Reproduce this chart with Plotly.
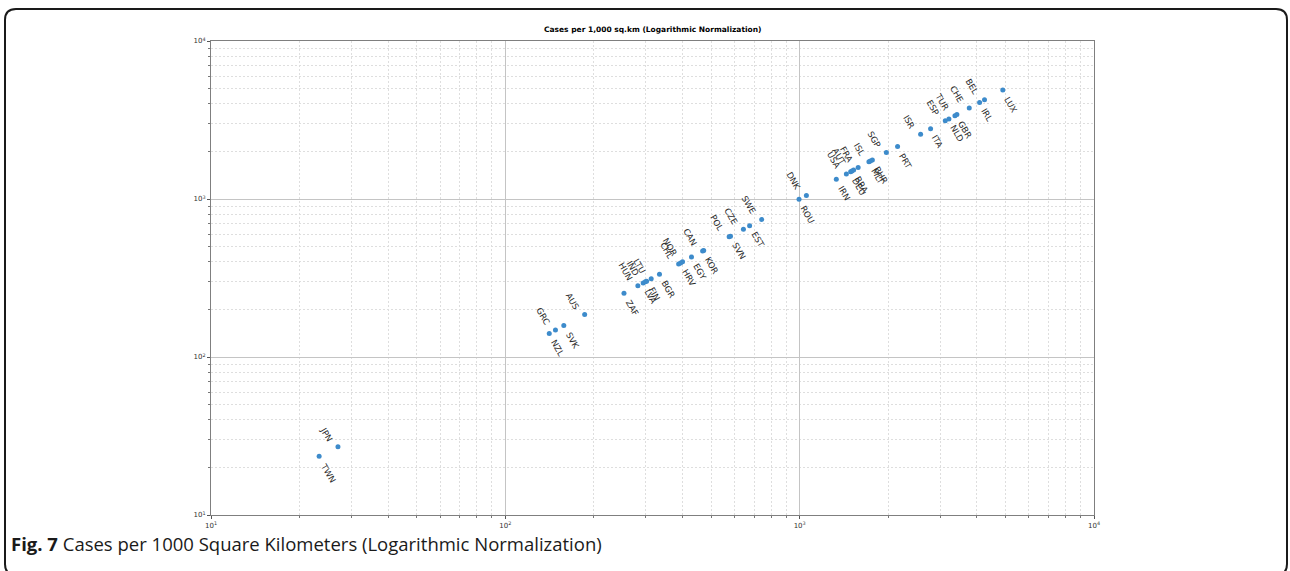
import math
import plotly.graph_objects as go

# ---- data ----
countries = ["TWN","JPN","NZL","GRC","SVK","AUS","ZAF","HUN","LVA","IND","FIN","LTU","BGR",
             "CHL","HRV","NOR","EGY","CAN","KOR","POL","SVN","CZE","EST","SWE","ROU","DNK",
             "IRN","USA","DEU","AUT","BRA","FRA","MLT","ISL","BHR","SGP","PRT","ISR","ITA",
             "ESP","NLD","TUR","GBR","CHE","IRL","BEL","LUX"]
cases_x = [23.3, 27.0, 141, 148, 158, 186, 253, 282, 294, 299, 302, 313, 334,
           388, 394, 400, 429, 468, 472, 576, 582, 644, 676, 743, 995, 1054,
           1332, 1441, 1490, 1505, 1525, 1580, 1719, 1739, 1766, 1970, 2151, 2576, 2785,
           3124, 3214, 3369, 3421, 3769, 4086, 4246, 4900]
cases_y = [23.5, 27.0, 141, 148, 158, 186, 253, 282, 294, 299, 302, 313, 334,
           388, 394, 400, 429, 468, 472, 576, 582, 644, 676, 743, 995, 1054,
           1332, 1441, 1490, 1505, 1525, 1580, 1719, 1739, 1766, 1970, 2151, 2568, 2785,
           3124, 3214, 3369, 3421, 3769, 4086, 4246, 4900]
major_ticks = [10, 100, 1000, 10000]
major_text = ["10<sup>1</sup>", "10<sup>2</sup>", "10<sup>3</sup>", "10<sup>4</sup>"]
minor_ticks = [m * d for d in (10, 100, 1000) for m in range(2, 10)]

title_text = "<b>Cases per 1,000 sq.km (Logarithmic Normalization)</b>"
caption_text = "<b>Fig. 7</b> Cases per 1000 Square Kilometers (Logarithmic Normalization)"

W, H = 1290, 571
L, R, T, B = 211, 1094, 41, 515

fig = go.Figure()
fig.add_trace(go.Scatter(
    x=cases_x, y=cases_y, mode="markers",
    marker=dict(color="#3d8bcb", size=5, line=dict(width=0)),
    hoverinfo="text", text=countries, showlegend=False,
))

for i, (c, xv, yv) in enumerate(zip(countries, cases_x, cases_y)):
    lx, ly = math.log10(xv), math.log10(yv)   # annotations on log axes use log10 units
    if i % 2 == 0:   # below-right
        fig.add_annotation(x=lx, y=ly, xref="x", yref="y", text=c, showarrow=False,
                           textangle=60, xanchor="left", yanchor="top",
                           xshift=-3, yshift=-2,
                           font=dict(family="DejaVu Sans", size=8.5, color="#2b2b2b"))
    else:            # above-left
        fig.add_annotation(x=lx, y=ly, xref="x", yref="y", text=c, showarrow=False,
                           textangle=60, xanchor="right", yanchor="bottom",
                           xshift=-1, yshift=1,
                           font=dict(family="DejaVu Sans", size=8.5, color="#2b2b2b"))

axis_common = dict(
    type="log", tickmode="array", tickvals=major_ticks, ticktext=major_text,
    showgrid=True, gridcolor="#c4c4c4", gridwidth=1,
    showline=True, linecolor="#7f7f7f", linewidth=1.2, mirror=True,
    ticks="outside", ticklen=3, tickcolor="#555555",
    tickfont=dict(family="DejaVu Sans", size=7, color="#333333"),
    zeroline=False,
    minor=dict(tickmode="array", tickvals=minor_ticks, showgrid=True,
               gridcolor="#dedede", griddash="2px,2px", gridwidth=0.8,
               ticks="outside", ticklen=2, tickcolor="#777777"),
)
fig.update_xaxes(range=[1, 4], **axis_common)
fig.update_yaxes(range=[1, 4], **axis_common)

def px2paper(px, py):
    return (px - L) / (R - L), (B - py) / (B - T)

# rounded border
x0, y0, x1, y1, r = 5, 9, 1287, 575, 11
pts = [("M", x0 + r, y0), ("L", x1 - r, y0), ("Q", x1, y0, x1, y0 + r),
       ("L", x1, y1 - r), ("Q", x1, y1, x1 - r, y1), ("L", x0 + r, y1),
       ("Q", x0, y1, x0, y1 - r), ("L", x0, y0 + r), ("Q", x0, y0, x0 + r, y0)]
path = ""
for p in pts:
    cmd = p[0]
    coords = p[1:]
    segs = []
    for k in range(0, len(coords), 2):
        a, b = px2paper(coords[k], coords[k + 1])
        segs.append(f"{a:.5f},{b:.5f}")
    path += cmd + " ".join(segs) + " "
path += "Z"
fig.add_shape(type="path", path=path, xref="paper", yref="paper",
              line=dict(color="#1a1a1a", width=2), fillcolor="rgba(0,0,0,0)", layer="above")

tx, ty = px2paper(652, 30)
fig.add_annotation(x=tx, y=ty, xref="paper", yref="paper", text=title_text, showarrow=False,
                   xanchor="center", yanchor="middle",
                   font=dict(family="DejaVu Sans", size=7.5, color="#000000"))

cx, cy = px2paper(9, 543)
fig.add_annotation(x=cx, y=cy, xref="paper", yref="paper", text=caption_text, showarrow=False,
                   xanchor="left", yanchor="middle",
                   font=dict(family="Open Sans", size=18.5, color="#1a1a1a"))

fig.update_layout(
    width=W, height=H,
    margin=dict(l=L, r=W - R, t=T, b=H - B, autoexpand=False),
    paper_bgcolor="white", plot_bgcolor="white",
)

fig.write_html("out.html", config={"displayModeBar": False},
               post_script="document.body.style.margin='0';document.body.style.overflow='hidden';")
